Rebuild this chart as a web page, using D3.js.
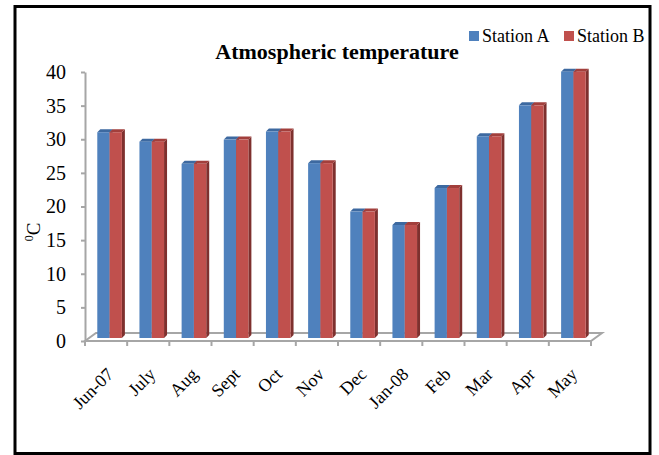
<!DOCTYPE html>
<html>
  <meta charset="utf-8">
  <head>
    <script src="https://d3js.org/d3.v7.min.js"></script>
    <style>
      body { margin: 0; background: #fff; }
      text { font-family: "Liberation Serif", "Times New Roman", serif; fill: #000; }
    </style>
  </head>
  <body>
    <div id="viz"></div>

    <script type="text/javascript">
      // chart values
      var categories = ["Jun-07", "July", "Aug", "Sept", "Oct", "Nov", "Dec", "Jan-08", "Feb", "Mar", "Apr", "May"];
      var stationA = [30.6, 29.2, 25.9, 29.5, 30.7, 26.0, 18.8, 16.8, 22.3, 30.0, 34.6, 39.6];
      var stationB = [30.6, 29.2, 25.9, 29.5, 30.7, 26.0, 18.8, 16.8, 22.3, 30.0, 34.6, 39.6];
      var yTicks = [0, 5, 10, 15, 20, 25, 30, 35, 40];
      var seriesNames = ["Station A", "Station B"];

      var width = 659, height = 455;
      var plot = {left: 85, right: 591, top: 72, bottom: 341};

      // fake 3d: floor depth and bar offsets
      var floorDx = 11, floorDy = -8;
      var barDx = 3.5, barDy = -3;
      var sideDx = 3, sideDy = -3;

      var colors = [
        {front: "#4f81bd", top: "#3d69a0", side: "#2f5281"},
        {front: "#c0504d", top: "#a23f3c", side: "#7e302e"}
      ];

      var svg = d3.select("#viz")
        .append("svg")
          .attr("width", width)
          .attr("height", height);

      // outer frame
      svg.append("rect")
        .attr("x", 15).attr("y", 6.5)
        .attr("width", 635).attr("height", 447)
        .attr("fill", "#fff")
        .attr("stroke", "#000")
        .attr("stroke-width", 3);

      var x = d3.scaleBand()
        .domain(categories)
        .range([plot.left, plot.right]);

      var y = d3.scaleLinear()
        .domain([0, 40])
        .range([plot.bottom, plot.top]);

      var barW = 12.3;

      // floor
      var floor = [
        [plot.left, plot.bottom],
        [plot.right, plot.bottom],
        [plot.right + floorDx, plot.bottom + floorDy],
        [plot.left + floorDx, plot.bottom + floorDy]
      ];
      svg.append("polygon")
        .attr("points", floor.map((p) => p.join(",")).join(" "))
        .attr("fill", "#fff")
        .attr("stroke", "#a6a6a6")
        .attr("stroke-width", 2)
        .attr("stroke-linejoin", "miter");

      // x tick marks at category boundaries
      var bounds = categories.map((c) => x(c)).concat([plot.right]);
      svg.selectAll(".xtick")
        .data(bounds)
        .enter()
        .append("line")
          .attr("x1", (d) => d).attr("x2", (d) => d)
          .attr("y1", plot.bottom).attr("y2", plot.bottom + 5)
          .attr("stroke", "#a6a6a6")
          .attr("stroke-width", 2);

      // Y axis
      var yAxis = svg.append("g")
        .attr("transform", "translate(" + plot.left + ",0)")
        .call(d3.axisLeft(y).tickValues(yTicks).tickSize(4).tickSizeOuter(0).tickPadding(15));
      yAxis.select(".domain").attr("stroke", "#a6a6a6").attr("stroke-width", 2);
      yAxis.selectAll(".tick line").attr("stroke", "#a6a6a6").attr("stroke-width", 2);
      yAxis.selectAll(".tick text")
        .style("font-family", "'Liberation Serif', 'Times New Roman', serif")
        .style("font-size", "20px")
        .attr("fill", "#000");

      // bars
      var rows = [];
      categories.forEach(function (c, i) {
        [stationA[i], stationB[i]].forEach(function (v, s) {
          rows.push({cat: c, s: s, v: v});
        });
      });

      var bars = svg.selectAll(".bar")
        .data(rows)
        .enter()
        .append("g")
          .attr("class", "bar");

      function bx(d) {
        return x(d.cat) + x.bandwidth() / 2 - barW + barDx + d.s * barW;
      }
      var base = plot.bottom + barDy;

      bars.append("polygon")
        .attr("points", function (d) {
          var x0 = bx(d), x1 = x0 + barW, yt = y(d.v) + barDy;
          return [[x1, yt], [x1 + sideDx, yt + sideDy], [x1 + sideDx, base + sideDy], [x1, base]]
            .map((p) => p.join(",")).join(" ");
        })
        .attr("fill", (d) => colors[d.s].side);

      bars.append("polygon")
        .attr("points", function (d) {
          var x0 = bx(d), x1 = x0 + barW, yt = y(d.v) + barDy;
          return [[x0, yt], [x0 + sideDx, yt + sideDy], [x1 + sideDx, yt + sideDy], [x1, yt]]
            .map((p) => p.join(",")).join(" ");
        })
        .attr("fill", (d) => colors[d.s].top);

      bars.append("rect")
        .attr("x", (d) => bx(d))
        .attr("y", (d) => y(d.v) + barDy)
        .attr("width", barW)
        .attr("height", (d) => base - (y(d.v) + barDy))
        .attr("fill", (d) => colors[d.s].front);

      // category labels
      svg.selectAll(".xlab")
        .data(categories)
        .enter()
        .append("text")
          .attr("transform", (d) => "translate(" + (x(d) + x.bandwidth() / 2 + 4) + ",371)rotate(-45)")
          .attr("text-anchor", "end")
          .attr("dy", "0.35em")
          .style("font-size", "18px")
          .text((d) => d);

      // y axis title (degrees C)
      var yt = svg.append("text")
        .attr("transform", "translate(40,232)rotate(-90)")
        .attr("text-anchor", "middle")
        .style("font-size", "19px");
      yt.append("tspan").text("0").attr("baseline-shift", "super").style("font-size", "12px");
      yt.append("tspan").text("C");

      // title
      svg.append("text")
        .attr("x", 337).attr("y", 59)
        .attr("text-anchor", "middle")
        .style("font-size", "22px")
        .style("font-weight", "bold")
        .text("Atmospheric temperature");

      // legend
      var legendX = [469, 564];
      var legend = svg.selectAll(".legend")
        .data(seriesNames)
        .enter()
        .append("g")
          .attr("transform", (d, i) => "translate(" + legendX[i] + ",31)");
      legend.append("rect")
        .attr("width", 10).attr("height", 10)
        .attr("fill", (d, i) => colors[i].front);
      legend.append("text")
        .attr("x", 13).attr("y", 11)
        .style("font-size", "18px")
        .text((d) => d);
    </script>
  </body>
</html>
